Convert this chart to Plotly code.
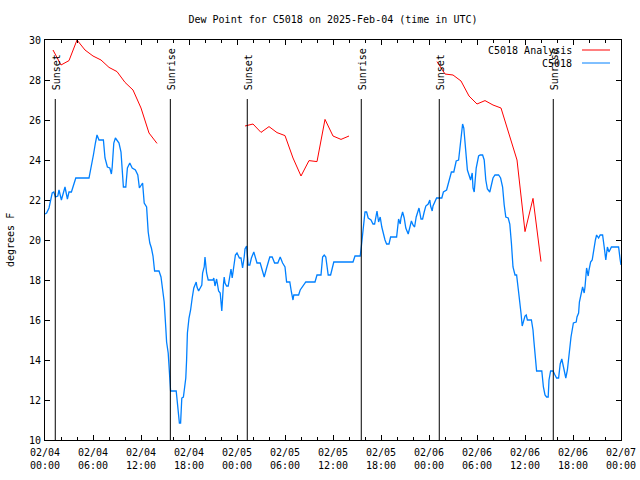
import pandas as pd
import plotly.graph_objects as go

START = pd.Timestamp("2025-02-04 00:00")

# C5018 observations: hours since 2025-02-04 00:00 UTC, dew point (F)
obs_hours = [0.0, 0.2, 0.5, 0.9, 1.1, 1.3, 1.6, 1.75, 2.05, 2.25, 2.5, 2.8, 3.0, 3.3, 3.6, 3.85,
             5.5, 5.7, 6.05, 6.3, 6.5, 6.75, 7.3, 7.5, 7.8, 8.1, 8.3, 8.4, 8.6, 8.8, 9.25, 9.5,
             9.8, 10.1, 10.3, 10.6, 10.9, 11.3, 11.6, 11.8, 12.0, 12.2, 12.4, 12.7, 12.9, 13.1,
             13.3, 13.5, 13.7, 14.25, 14.5, 14.7, 14.9, 15.1, 15.2, 15.4, 15.5, 15.6, 15.7, 16.4,
             16.5, 16.7, 16.8, 16.95, 17.1, 17.3, 17.4, 17.6, 17.7, 17.8, 18.0, 18.2, 18.4, 18.6,
             18.9, 19.0, 19.2, 19.4, 19.6, 19.7, 19.9, 20.0, 20.2, 20.4, 21.0, 21.1, 21.25, 21.45,
             21.7, 21.9, 22.0, 22.1, 22.3, 22.4, 22.5, 22.7, 22.9, 23.1, 23.25, 23.4, 23.6, 23.8,
             24.0, 24.3, 24.5, 24.7, 24.9, 25.0, 25.2, 25.3, 25.4, 25.6, 25.8, 26.1, 26.5, 26.9,
             27.4, 27.7, 28.1, 28.4, 28.7, 29.1, 29.4, 29.7, 30.0, 30.2, 30.6, 30.8, 31.0, 31.1,
             31.7, 31.9, 32.6, 33.75, 34.0, 34.5, 34.7, 34.9, 35.1, 35.4, 35.7, 36.1, 38.5, 38.75,
             39.4, 39.55, 39.7, 39.9, 40.0, 40.2, 40.4, 40.75, 41.0, 41.2, 41.4, 41.5, 41.7, 41.9,
             42.1, 42.3, 42.5, 42.7, 43.0, 43.2, 43.95, 44.2, 44.4, 44.5, 44.7, 44.9, 45.1, 45.4,
             45.6, 45.8, 46.0, 46.2, 46.4, 46.6, 46.75, 47.0, 47.2, 47.4, 47.6, 47.9, 48.1, 48.2,
             48.4, 48.5, 48.75, 48.95, 49.6, 49.8, 50.2, 50.4, 50.6, 50.8, 51.1, 51.4, 51.7, 51.9,
             52.1, 52.2, 52.35, 52.5, 52.65, 52.8, 53.0, 53.2, 53.4, 53.5, 53.65, 53.9, 54.2, 54.4,
             54.7, 54.9, 55.1, 55.3, 55.6, 55.8, 56.0, 56.25, 56.7, 56.95, 57.2, 57.4, 57.6, 57.9,
             58.1, 58.3, 58.5, 58.75, 58.95, 59.2, 59.4, 59.5, 59.65, 59.8, 60.0, 60.15, 60.3, 60.8,
             61.0, 61.1, 61.25, 61.45, 62.1, 62.3, 62.5, 62.7, 62.9, 63.0, 63.2, 63.5, 63.75, 63.95,
             64.2, 64.4, 64.6, 64.8, 65.0, 65.1, 65.3, 65.5, 65.6, 65.75, 66.05, 66.4, 66.5, 66.7,
             66.8, 67.0, 67.2, 67.4, 67.5, 67.7, 67.9, 68.0, 68.2, 68.4, 68.6, 68.8, 68.95, 69.2,
             69.4, 69.7, 69.9, 70.1, 70.3, 70.5, 70.8, 71.7, 71.9, 72.0]
obs_values = [21.3, 21.35, 21.6, 22.35, 22.4, 22.15, 22.2, 22.5, 22.0, 22.25, 22.65, 22.05, 22.4, 22.4, 22.85, 23.1,
              23.1, 23.6, 24.25, 24.85, 25.25, 25.0, 25.0, 24.1, 23.65, 23.6, 23.3, 23.65, 24.85, 25.1, 24.85, 24.4,
              22.65, 22.65, 23.6, 23.85, 23.6, 23.5, 23.25, 22.6, 22.75, 22.85, 21.85, 21.65, 20.4, 19.85,
              19.6, 19.2, 18.45, 18.45, 18.15, 17.55, 16.9, 15.6, 14.9, 14.35, 13.65, 12.85, 12.45, 12.45,
              12.0, 11.25, 10.85, 10.85, 12.1, 12.15, 12.45, 13.1, 14.0, 15.35, 16.1, 16.5, 17.1, 17.6,
              17.9, 17.65, 17.45, 17.6, 17.75, 18.35, 18.65, 19.15, 18.35, 18.0, 18.0, 18.1, 17.7, 18.05,
              17.45, 17.35, 16.9, 16.45, 17.75, 18.15, 17.85, 17.7, 17.7, 18.35, 18.55, 18.1, 18.65, 19.25,
              19.35, 19.1, 19.1, 18.6, 19.15, 19.55, 19.7, 18.9, 18.75, 18.75, 19.1, 19.4, 18.85, 18.85,
              18.15, 18.6, 19.15, 19.15, 18.85, 18.85, 19.15, 18.85, 18.65, 17.9, 17.9, 17.4, 17.0, 17.25,
              17.25, 17.5, 17.9, 17.9, 18.25, 18.25, 19.15, 19.25, 19.15, 18.25, 18.25, 18.9, 18.9, 19.2,
              19.2, 19.7, 20.4, 21.3, 21.4, 21.4, 21.1, 21.0, 20.8, 20.8, 21.25, 21.45, 20.9, 21.15,
              20.65, 20.3, 20.0, 19.8, 19.8, 20.15, 20.15, 21.05, 20.8, 21.1, 21.4, 21.1, 20.6, 20.3,
              20.6, 20.95, 20.75, 20.65, 21.15, 21.5, 21.6, 21.05, 21.05, 21.4, 21.7, 21.8, 22.0, 21.7,
              21.45, 21.7, 21.95, 22.1, 22.1, 22.4, 22.5, 22.8, 23.05, 23.4, 23.4, 23.95, 24.0, 24.65,
              25.6, 25.8, 25.6, 24.8, 24.2, 23.5, 23.25, 23.0, 23.35, 22.6, 22.4, 23.6, 24.2, 24.25,
              24.25, 24.0, 23.0, 22.55, 22.4, 22.75, 23.1, 23.25, 23.25, 23.1, 22.65, 21.75, 21.15, 21.1,
              20.8, 19.85, 18.65, 18.25, 18.25, 17.4, 16.85, 16.35, 15.7, 15.9, 16.2, 16.25, 16.0, 16.0,
              15.5, 15.0, 14.35, 13.45, 13.45, 12.65, 12.25, 12.15, 12.15, 13.0, 13.45, 13.45, 13.25, 13.1,
              13.1, 13.8, 14.05, 13.65, 13.25, 13.1, 13.5, 14.4, 14.65, 15.15, 15.85, 15.9, 16.15, 16.35,
              16.9, 17.35, 17.65, 17.35, 17.65, 18.6, 18.2, 18.5, 18.9, 19.0, 19.6, 20.0, 20.25, 20.1,
              20.25, 20.25, 19.65, 19.0, 19.65, 19.4, 19.65, 19.65, 19.0, 18.75]

# C5018 Analysis: three overnight runs (hours since start, dew point F)
ana1_hours = [1, 2, 3, 4, 5, 6, 7, 8, 9, 10, 11, 12, 13, 14]
ana1_values = [29.5, 28.75, 28.97, 30.0, 29.5, 29.2, 29.0, 28.63, 28.42, 27.88, 27.5, 26.6, 25.35, 24.83]
ana2_hours = [25, 26, 27, 28, 29, 30, 31, 32, 33, 34, 35, 36, 37, 38]
ana2_values = [25.7, 25.8, 25.38, 25.67, 25.37, 25.22, 24.1, 23.2, 23.97, 23.92, 26.03, 25.2, 25.03, 25.2]
ana3_hours = [49, 50, 51, 52, 53, 54, 55, 56, 57, 58, 59, 60, 61, 62]
ana3_values = [28.92, 28.3, 28.25, 27.95, 27.2, 26.8, 26.97, 26.75, 26.6, 25.35, 24.0, 20.42, 22.08, 18.92]

sun_labels = ["Sunset", "Sunrise", "Sunset", "Sunrise", "Sunset", "Sunrise"]
sun_times = ["2025-02-04 01:17", "2025-02-04 15:40", "2025-02-05 01:17",
             "2025-02-05 15:32", "2025-02-06 01:17", "2025-02-06 15:32"]

y_ticks = [10, 12, 14, 16, 18, 20, 22, 24, 26, 28, 30]

FONT = "DejaVu Sans Mono"
RED = "#ff0000"
BLUE = "#0080ff"


def to_time(hours):
    return START + pd.to_timedelta(hours, unit="h")


fig = go.Figure()
for hrs, vals in [(ana1_hours, ana1_values), (ana2_hours, ana2_values), (ana3_hours, ana3_values)]:
    fig.add_trace(go.Scatter(x=to_time(hrs), y=vals, mode="lines",
                             line=dict(color=RED, width=1), showlegend=False, hoverinfo="skip"))
fig.add_trace(go.Scatter(x=to_time(obs_hours), y=obs_values, mode="lines",
                         line=dict(color=BLUE, width=1.3), showlegend=False))

for lab, t in zip(sun_labels, sun_times):
    fig.add_shape(type="line", xref="x", yref="y", x0=t, x1=t, y0=10, y1=27.05,
                  line=dict(color="black", width=1))
    fig.add_annotation(x=t, y=27.4, xref="x", yref="y", text=lab, showarrow=False,
                       textangle=-90, xanchor="center", yanchor="bottom", xshift=1,
                       font=dict(family=FONT, size=10, color="black"))

# legend (text then line sample, gnuplot style)
legend_items = [("C5018 Analysis", RED), ("C5018", BLUE)]
for i, (name, col) in enumerate(legend_items):
    ypos = 1 - (10 + 13 * i) / 400
    fig.add_annotation(x=(574 - 45) / 576, y=ypos, xref="paper", yref="paper", text=name,
                       showarrow=False, xanchor="right", yanchor="middle",
                       font=dict(family=FONT, size=10, color="black"))
    fig.add_shape(type="line", xref="paper", yref="paper",
                  x0=(582 - 45) / 576, x1=(610 - 45) / 576, y0=ypos, y1=ypos,
                  line=dict(color=col, width=1))

fig.add_annotation(x=-35 / 576, y=0.5, xref="paper", yref="paper", text="degrees F",
                   showarrow=False, textangle=-90, xanchor="center", yanchor="middle",
                   font=dict(family=FONT, size=10, color="black"))

fig.update_layout(
    width=640, height=480,
    margin=dict(l=45, r=19, t=40, b=40, autoexpand=False),
    paper_bgcolor="white", plot_bgcolor="white",
    font=dict(family=FONT, size=10, color="black"),
    title=dict(text="Dew Point for C5018 on 2025-Feb-04 (time in UTC)", x=(45 + 576 / 2) / 640,
               xanchor="center", y=1 - 19 / 480, yanchor="middle",
               font=dict(family=FONT, size=10, color="black")),
    showlegend=False,
)
fig.update_xaxes(range=["2025-02-04 00:00", "2025-02-07 00:00"], dtick=6 * 3600000,
                 tick0="2025-02-04 00:00", tickformat="%m/%d<br>%H:%M", automargin=False,
                 ticks="inside", ticklen=5, tickcolor="black", showgrid=False, zeroline=False,
                 showline=True, linecolor="black", linewidth=1, mirror="ticks",
                 ticklabelstandoff=3,
                 minor=dict(dtick=2 * 3600000, ticks="inside", ticklen=3, tickcolor="black"),
                 tickfont=dict(family=FONT, size=10, color="black"))
fig.update_yaxes(range=[10, 30], tickvals=y_ticks, ticks="inside", ticklen=5, tickcolor="black",
                 showgrid=False, zeroline=False, showline=True, linecolor="black", linewidth=1,
                 mirror="ticks", automargin=False, ticklabelstandoff=1,
                 tickfont=dict(family=FONT, size=10, color="black"))

fig.write_html("out.html", config={"displayModeBar": False},
               post_script="document.body.style.margin='0px';")
